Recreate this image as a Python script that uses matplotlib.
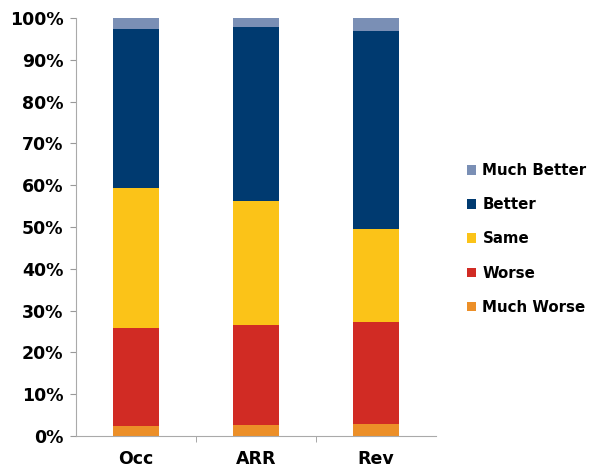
import matplotlib
matplotlib.use("Agg")
import matplotlib.pyplot as plt
import numpy as np
from matplotlib.ticker import PercentFormatter

groups = ["Occ", "ARR", "Rev"]
series = ["Much Worse", "Worse", "Same", "Better", "Much Better"]
much_worse = [2.5, 2.6, 2.8]
worse = [23.4, 24.0, 24.5]
same = [33.5, 29.6, 22.2]
better = [38.0, 41.7, 47.5]
much_better = [2.6, 2.1, 3.0]
colors = ["#EC8F28", "#D12B24", "#FBC318", "#003A70", "#7A8FB5"]

values = [much_worse, worse, same, better, much_better]

plt.rcParams["font.family"] = ["DejaVu Sans"]
fig = plt.figure(figsize=(5.89, 4.68), dpi=100)
ax = fig.add_axes([76 / 589, 32 / 468, 360 / 589, 418 / 468])

x = np.arange(len(groups))
bottom = np.zeros(len(groups))
handles = []
for name, vals, c in zip(series, values, colors):
    h = ax.bar(x, vals, width=0.39, bottom=bottom, color=c, label=name)
    handles.append(h)
    bottom += np.array(vals)

ax.set_xlim(-0.5, 2.5)
ax.set_ylim(0, 100)
ax.set_yticks(np.arange(0, 101, 10))
ax.yaxis.set_major_formatter(PercentFormatter(decimals=0))
ax.set_xticks(x)
ax.set_xticklabels(groups)
ax.set_xticks([0.5, 1.5], minor=True)
ax.tick_params(axis="x", which="major", length=0, pad=10)
ax.tick_params(axis="x", which="minor", length=4, color="#999999")
ax.tick_params(axis="y", length=4, color="#999999", pad=5)
for lab in ax.get_xticklabels() + ax.get_yticklabels():
    lab.set_fontweight("bold")
    lab.set_fontsize(12.5)
for s in ["top", "right"]:
    ax.spines[s].set_visible(False)
ax.spines["left"].set_color("#aaaaaa")
ax.spines["bottom"].set_color("#aaaaaa")

fig.legend(handles[::-1], series[::-1], loc="center left",
           bbox_to_anchor=(454 / 589, 1 - 239 / 468), frameon=False,
           prop={"weight": "bold", "size": 10.8}, handlelength=0.6,
           handleheight=0.6, handletextpad=0.4, labelspacing=1.28)

fig.savefig("out.png", dpi=100)
